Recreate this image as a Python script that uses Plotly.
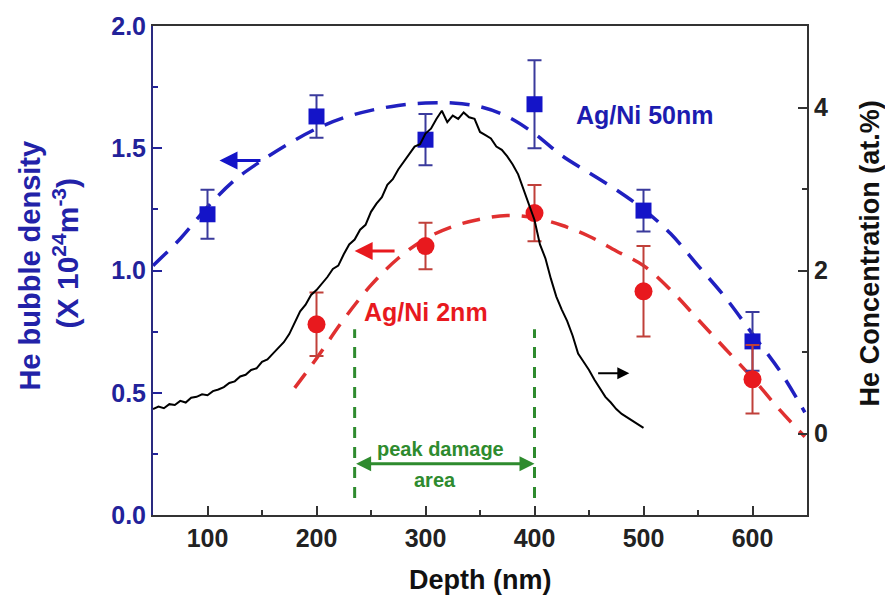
import plotly.graph_objects as go

# Bubble density measurements (x 10^24 m^-3) vs depth (nm)
depth_50nm = [100, 200, 300, 400, 500, 600]
density_50nm = [1.23, 1.63, 1.535, 1.68, 1.245, 0.71]
err_50nm = [0.10, 0.087, 0.105, 0.18, 0.085, 0.12]

depth_2nm = [200, 300, 400, 500, 600]
density_2nm = [0.78, 1.10, 1.235, 0.915, 0.555]
err_2nm = [0.13, 0.095, 0.115, 0.185, 0.14]

# Fitted guide curves through the density data
fit50_depth = [50, 75, 100, 125, 150, 175, 200, 225, 250, 275, 300, 325, 350,
               375, 400, 425, 450, 475, 500, 525, 550, 575, 600, 625, 648]
fit50_value = [1.02, 1.13, 1.26, 1.37, 1.45, 1.52, 1.58, 1.625, 1.655, 1.675,
               1.685, 1.685, 1.67, 1.63, 1.56, 1.47, 1.40, 1.33, 1.25, 1.15,
               1.02, 0.89, 0.74, 0.59, 0.42]

fit2_depth = [180, 200, 225, 250, 275, 300, 325, 350, 375, 400, 425, 450, 475,
              500, 525, 550, 575, 600, 625, 648]
fit2_value = [0.52, 0.64, 0.80, 0.94, 1.05, 1.13, 1.18, 1.21, 1.225, 1.215,
              1.185, 1.14, 1.08, 1.02, 0.92, 0.80, 0.68, 0.56, 0.43, 0.32]

# He concentration profile (at.%)
he_depth = list(range(50, 505, 5))
he_conc = [0.30, 0.33, 0.31, 0.36, 0.35, 0.40, 0.38, 0.44, 0.45, 0.48,
           0.47, 0.52, 0.54, 0.57, 0.62, 0.64, 0.70, 0.72, 0.78, 0.80,
           0.88, 0.91, 0.98, 1.05, 1.12, 1.22, 1.36, 1.50, 1.58, 1.70,
           1.76, 1.84, 1.92, 2.02, 2.06, 2.20, 2.32, 2.38, 2.50, 2.56,
           2.72, 2.82, 2.90, 3.05, 3.12, 3.24, 3.33, 3.42, 3.52, 3.55,
           3.68, 3.74, 3.86, 3.96, 3.82, 3.90, 3.86, 3.94, 3.88, 3.86,
           3.70, 3.66, 3.62, 3.52, 3.48, 3.40, 3.30, 3.18, 3.00, 2.80,
           2.62, 2.32, 2.15, 1.90, 1.68, 1.52, 1.38, 1.20, 0.98, 0.88,
           0.78, 0.66, 0.55, 0.45, 0.38, 0.30, 0.24, 0.20, 0.15, 0.11, 0.07]

peak_area = [235, 400]

BLUE = "#1414c8"
BLUE_DARK = "#22229a"
RED = "#e8191e"
RED_ERR = "#c0403a"
GREEN = "#2e8b2e"
FONT = "Liberation Sans, Arial, sans-serif"

fig = go.Figure()

fig.add_trace(go.Scatter(x=fit50_depth, y=fit50_value, mode="lines", line_shape="spline",
                         line=dict(color="#2020c0", width=3.5, dash="20px,12px"),
                         showlegend=False, hoverinfo="skip"))
fig.add_trace(go.Scatter(x=fit2_depth, y=fit2_value, mode="lines", line_shape="spline",
                         line=dict(color="#e03030", width=3.5, dash="18px,12px"),
                         showlegend=False, hoverinfo="skip"))

fig.add_trace(go.Scatter(x=depth_50nm, y=density_50nm, mode="markers",
                         marker=dict(symbol="square", size=16, color=BLUE),
                         error_y=dict(type="data", array=err_50nm, thickness=2,
                                      width=7, color="#3a3a9c"),
                         showlegend=False))
fig.add_trace(go.Scatter(x=depth_2nm, y=density_2nm, mode="markers",
                         marker=dict(symbol="circle", size=18, color=RED),
                         error_y=dict(type="data", array=err_2nm, thickness=2,
                                      width=7, color=RED_ERR),
                         showlegend=False))

fig.add_trace(go.Scatter(x=he_depth, y=he_conc, mode="lines", yaxis="y2",
                         line=dict(color="black", width=2),
                         showlegend=False))

# Peak damage region markers
for d in peak_area:
    fig.add_shape(type="line", xref="x", yref="y", x0=d, x1=d, y0=0.07, y1=0.76,
                  line=dict(color=GREEN, width=3, dash="11px,9px"))

tick_font = dict(family=FONT, size=25, weight="bold")

fig.update_layout(
    width=885, height=597,
    margin=dict(l=153, r=78, t=26, b=82),
    paper_bgcolor="white", plot_bgcolor="white",
    xaxis=dict(range=[50, 650], tickvals=[100, 200, 300, 400, 500, 600],
               ticks="inside", ticklen=9, tickwidth=2, tickcolor="#333",
               minor=dict(ticks="inside", ticklen=5, dtick=50, tick0=50,
                          tickcolor="#333", tickwidth=2),
               showline=True, linecolor="#333", linewidth=2, mirror=True,
               showgrid=False, zeroline=False,
               tickfont=dict(color="#222", **tick_font)),
    yaxis=dict(range=[0, 2.0], tickvals=[0, 0.5, 1.0, 1.5, 2.0],
               ticktext=["0.0", "0.5", "1.0", "1.5", "2.0"],
               ticks="inside", ticklen=9, tickwidth=2, tickcolor=BLUE_DARK,
               minor=dict(ticks="inside", ticklen=5, dtick=0.25, tick0=0,
                          tickcolor=BLUE_DARK, tickwidth=2),
               showline=True, linecolor="#2a2a80", linewidth=2,
               showgrid=False, zeroline=False,
               tickfont=dict(color=BLUE_DARK, **tick_font)),
    yaxis2=dict(range=[-1, 5], overlaying="y", side="right",
                tickvals=[0, 2, 4],
                ticks="inside", ticklen=9, tickwidth=2, tickcolor="#333",
                minor=dict(ticks="inside", ticklen=5, dtick=1, tick0=0,
                           tickcolor="#333", tickwidth=2),
                showline=True, linecolor="#333", linewidth=2,
                showgrid=False, zeroline=False,
                tickfont=dict(color="#222", **tick_font)),
)

annotations = [
    # Axis titles
    dict(text="He bubble density", xref="paper", yref="paper",
         x=(30 - 153) / 654, y=0.51, xanchor="center", yanchor="middle",
         textangle=-90, showarrow=False,
         font=dict(family=FONT, size=29, color="#2222a8", weight="bold")),
    dict(text="(X 10<sup>24</sup>m<sup>-3</sup>)", xref="paper", yref="paper",
         x=(66 - 153) / 654, y=0.535, xanchor="center", yanchor="middle",
         textangle=-90, showarrow=False,
         font=dict(family=FONT, size=30, color="#2222a8", weight="bold")),
    dict(text="He Concentration (at.%)", xref="paper", yref="paper",
         x=(870 - 153) / 654, y=0.535, xanchor="center", yanchor="middle",
         textangle=-90, showarrow=False,
         font=dict(family=FONT, size=27, color="#111", weight="bold")),
    dict(text="Depth (nm)", xref="paper", yref="paper", x=0.5, y=-0.133,
         xanchor="center", yanchor="middle",
         showarrow=False, font=dict(family=FONT, size=27, color="#111", weight="bold")),
    # Series labels
    dict(text="Ag/Ni 50nm", x=501, y=1.636, xref="x", yref="y", showarrow=False,
         font=dict(family=FONT, size=25, color="#1c1cb0", weight="bold")),
    dict(text="Ag/Ni 2nm", x=300, y=0.83, xref="x", yref="y", showarrow=False,
         font=dict(family=FONT, size=25, color=RED, weight="bold")),
    # Axis pointer arrows
    dict(x=111, y=1.45, ax=150, ay=1.45, xref="x", yref="y", axref="x", ayref="y",
         text="", showarrow=True, arrowhead=2, arrowsize=1.2, arrowwidth=3,
         arrowcolor=BLUE),
    dict(x=235, y=1.08, ax=273, ay=1.08, xref="x", yref="y", axref="x", ayref="y",
         text="", showarrow=True, arrowhead=2, arrowsize=1.2, arrowwidth=3,
         arrowcolor=RED),
    dict(x=487, y=0.58, ax=457, ay=0.58, xref="x", yref="y", axref="x", ayref="y",
         text="", showarrow=True, arrowhead=2, arrowsize=1.2, arrowwidth=2,
         arrowcolor="black"),
    # Peak damage area span
    dict(x=400, y=0.21, ax=235, ay=0.21, xref="x", yref="y", axref="x", ayref="y",
         text="", showarrow=True, arrowhead=2, startarrowhead=2, arrowside="end+start",
         arrowsize=1, arrowwidth=3, arrowcolor=GREEN),
    dict(text="peak damage", x=314, y=0.27, xref="x", yref="y", showarrow=False,
         font=dict(family=FONT, size=20, color=GREEN, weight="bold")),
    dict(text="area", x=309, y=0.145, xref="x", yref="y", showarrow=False,
         font=dict(family=FONT, size=20, color=GREEN, weight="bold")),
]
fig.update_layout(annotations=annotations)

fig.write_html("out.html")
